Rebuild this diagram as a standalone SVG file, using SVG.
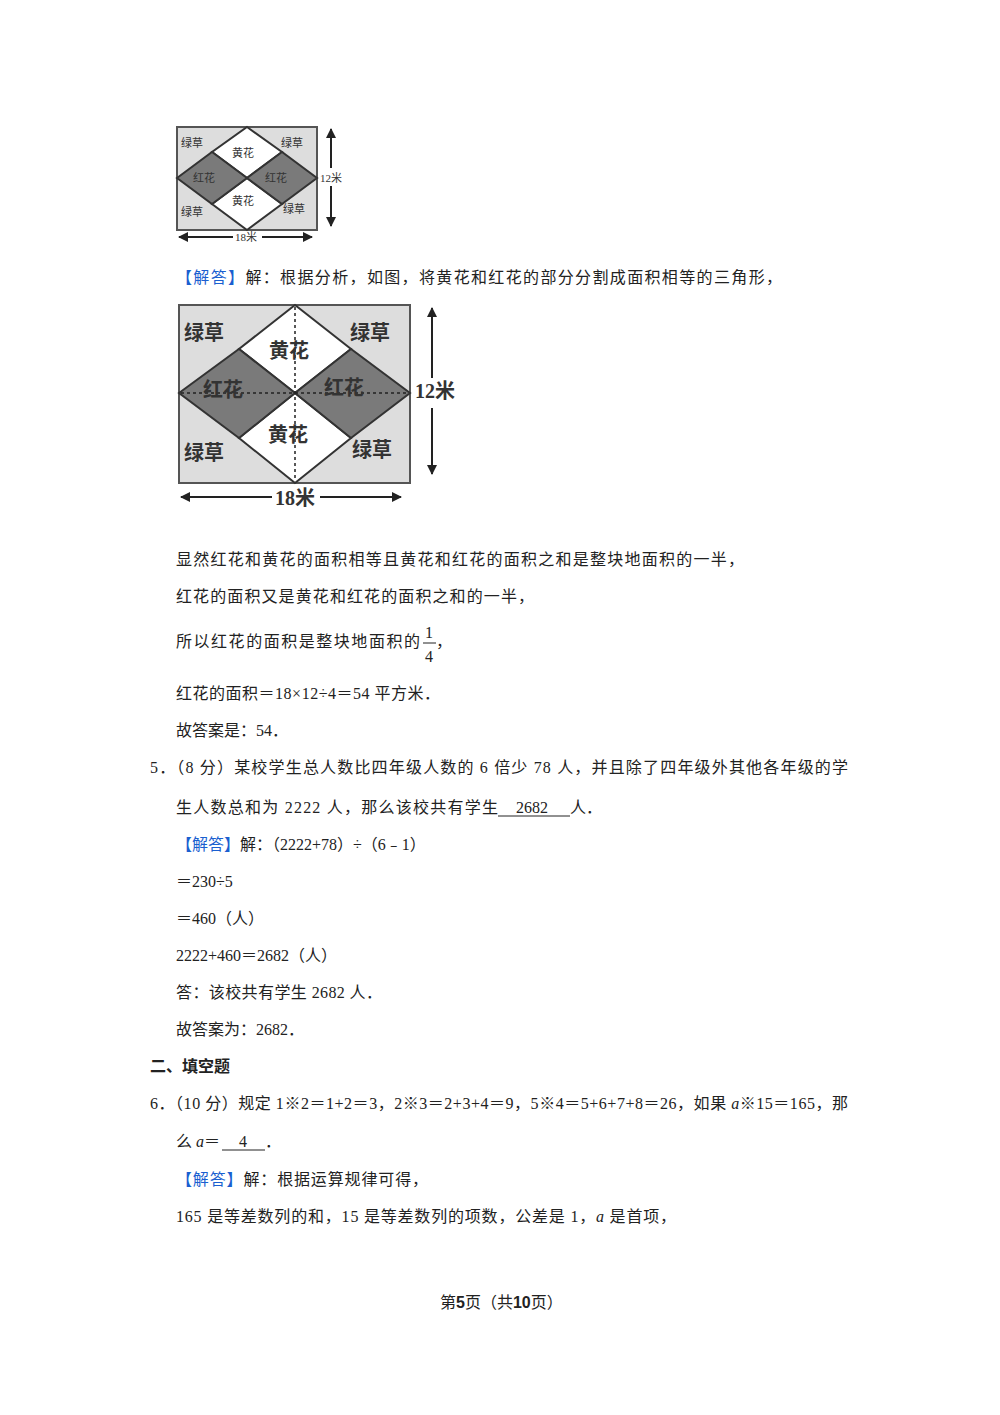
<svg xmlns="http://www.w3.org/2000/svg" width="1000" height="1415" viewBox="0 0 1000 1415">
<style>
text{font-family:"Liberation Serif","Noto Sans CJK SC",serif;font-size:16px;fill:#222}
.b{fill:#1a5fd0}
.h{font-weight:bold}
.g{fill:#ddd;stroke:#555;stroke-width:2}
.d{fill:#7a7a7a;stroke:#333;stroke-width:2}
.w{fill:#fff;stroke:#333;stroke-width:2}
.l{stroke:#222;stroke-width:2;fill:none}
.s{font-size:11px;fill:#333}
.m{font-size:20px;fill:#333;font-weight:bold}
</style>
<defs><marker id="a" viewBox="0 0 10 10" refX="9" refY="5" markerWidth="5" markerHeight="5" orient="auto-start-reverse"><path d="M0,0L10,5L0,10z" fill="#222"/></marker></defs>
<rect width="1000" height="1415" fill="#fff"/>
<g id="fig1">
<rect x="177" y="127" width="140" height="103" class="g"/>
<polygon points="247,127 282,152 247,178 212,152" class="w"/>
<polygon points="247,178 282,204 247,230 212,204" class="w"/>
<polygon points="177,178 212,152 247,178 212,204" class="d"/>
<polygon points="247,178 282,152 317,178 282,204" class="d"/>
<line x1="331" y1="129" x2="331" y2="168" class="l" marker-start="url(#a)"/>
<line x1="331" y1="186" x2="331" y2="226" class="l" marker-end="url(#a)"/>
<line x1="179" y1="237" x2="233" y2="237" class="l" marker-start="url(#a)"/>
<line x1="262" y1="237" x2="312" y2="237" class="l" marker-end="url(#a)"/>
<text x="181" y="147" class="s">绿草</text><text x="281" y="147" class="s">绿草</text>
<text x="232" y="157" class="s">黄花</text><text x="232" y="205" class="s">黄花</text>
<text x="193" y="182" class="s">红花</text><text x="265" y="182" class="s">红花</text>
<text x="181" y="216" class="s">绿草</text><text x="283" y="213" class="s">绿草</text>
<text x="320" y="182" class="s">12米</text><text x="235" y="241" class="s">18米</text>
</g>
<text x="176" y="283" textLength="606"><tspan class="b">【解答】</tspan>解：根据分析，如图，将黄花和红花的部分分割成面积相等的三角形，</text>
<g id="fig2">
<rect x="179" y="305" width="231" height="178" class="g"/>
<polygon points="295,305 351,349 295,393 239,349" class="w"/>
<polygon points="295,393 351,438 295,483 239,438" class="w"/>
<polygon points="179,393 239,349 295,393 239,438" class="d"/>
<polygon points="295,393 351,349 410,393 351,438" class="d"/>
<line x1="295" y1="307" x2="295" y2="481" stroke="#222" stroke-width="1.5" stroke-dasharray="3,3"/>
<line x1="181" y1="393" x2="408" y2="393" stroke="#222" stroke-width="1.5" stroke-dasharray="3,3"/>
<line x1="432" y1="308" x2="432" y2="378" class="l" stroke-width="3" marker-start="url(#a)"/>
<line x1="432" y1="408" x2="432" y2="474" class="l" stroke-width="3" marker-end="url(#a)"/>
<line x1="181" y1="497" x2="272" y2="497" class="l" stroke-width="3" marker-start="url(#a)"/>
<line x1="320" y1="497" x2="401" y2="497" class="l" stroke-width="3" marker-end="url(#a)"/>
<text x="184" y="340" class="m">绿草</text><text x="350" y="340" class="m">绿草</text>
<text x="269" y="358" class="m">黄花</text><text x="268" y="442" class="m">黄花</text>
<text x="203" y="397" class="m">红花</text><text x="324" y="395" class="m">红花</text>
<text x="184" y="460" class="m">绿草</text><text x="352" y="457" class="m">绿草</text>
<text x="415" y="398" class="m">12米</text><text x="275" y="505" class="m">18米</text>
</g>
<text x="176" y="565" textLength="568">显然红花和黄花的面积相等且黄花和红花的面积之和是整块地面积的一半，</text>
<text x="176" y="602" textLength="358">红花的面积又是黄花和红花的面积之和的一半，</text>
<text x="176" y="647" textLength="244">所以红花的面积是整块地面积的</text>
<text x="425" y="638">1</text><line x1="423" y1="643" x2="436" y2="643" stroke="#222"/><text x="425" y="662">4</text><text x="436" y="647">，</text>
<text x="176" y="699" textLength="264">红花的面积＝18×12÷4＝54 平方米．</text>
<text x="176" y="736">故答案是：54．</text>
<text x="150" y="773" textLength="698">5．（8 分）某校学生总人数比四年级人数的 6 倍少 78 人，并且除了四年级外其他各年级的学</text>
<text x="176" y="813" textLength="322">生人数总和为 2222 人，那么该校共有学生</text>
<text x="516" y="813">2682</text><text x="570" y="813">人．</text>
<line x1="498" y1="816" x2="570" y2="816" stroke="#222"/>
<text x="176" y="850"><tspan class="b">【解答】</tspan>解：（2222+78）÷（6﹣1）</text>
<text x="176" y="887">＝230÷5</text>
<text x="176" y="924">＝460（人）</text>
<text x="176" y="961">2222+460＝2682（人）</text>
<text x="176" y="998" textLength="206">答：该校共有学生 2682 人．</text>
<text x="176" y="1035">故答案为：2682．</text>
<text x="150" y="1072" class="h">二、填空题</text>
<text x="150" y="1109" textLength="698">6．（10 分）规定 1※2＝1+2＝3，2※3＝2+3+4＝9，5※4＝5+6+7+8＝26，如果 <tspan font-style="italic">a</tspan>※15＝165，那</text>
<text x="176" y="1147">么 <tspan font-style="italic">a</tspan>＝</text>
<text x="239" y="1147">4</text><text x="265" y="1147">．</text>
<line x1="222" y1="1150" x2="265" y2="1150" stroke="#222"/>
<text x="176" y="1185" textLength="252"><tspan class="b">【解答】</tspan>解：根据运算规律可得，</text>
<text x="176" y="1222" textLength="500">165 是等差数列的和，15 是等差数列的项数，公差是 1，<tspan font-style="italic">a</tspan> 是首项，</text>
<text x="440" y="1308" font-size="14">第<tspan font-weight="bold" font-family="Liberation Sans" font-size="16">5</tspan>页（共<tspan font-weight="bold" font-family="Liberation Sans" font-size="16">10</tspan>页）</text>
</svg>
